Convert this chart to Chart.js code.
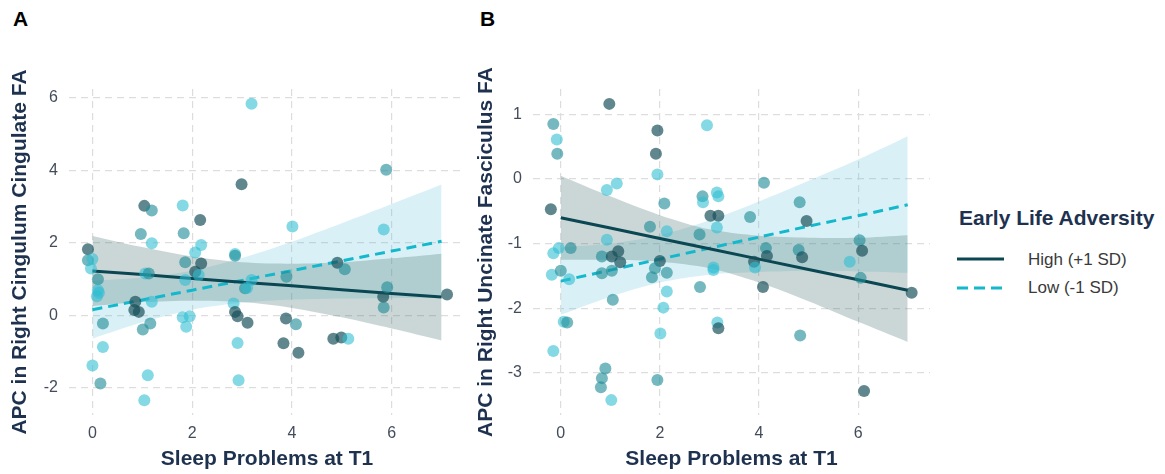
<!DOCTYPE html>
<html>
<head>
<meta charset="utf-8">
<script src="https://cdn.jsdelivr.net/npm/chart.js@4.4.1/dist/chart.umd.min.js"></script>
<style>
  body { margin: 0; background: #fff; width: 1165px; height: 474px; position: relative; overflow: hidden;
         font-family: "Liberation Sans", Arial, sans-serif; }
  .panel { position: absolute; top: 0; width: 475px; height: 474px; }
  .tag { position: absolute; top: 7px; font-weight: bold; font-size: 21px; color: #000; }
  .legend-title { position: absolute; left: 959px; top: 205px; font-size: 21px; font-weight: bold; color: #1e3250; line-height: 26px; }
  .legend-item { position: absolute; left: 1028px; font-size: 17px; color: #3a3a3a; line-height: 20px; }
  .legend-key { position: absolute; left: 956px; }
</style>
</head>
<body>
<div class="tag" style="left:13px;">A</div>
<div class="tag" style="left:480px;">B</div>
<div class="panel" style="left:0;"><canvas id="chartA" width="475" height="474"></canvas></div>
<div class="panel" style="left:465px;"><canvas id="chartB" width="475" height="474"></canvas></div>

<div class="legend-title">Early Life Adversity</div>
<svg class="legend-key" style="top:254px;" width="50" height="10"><line x1="1" y1="5" x2="48" y2="5" stroke="#0b4753" stroke-width="3"/></svg>
<div class="legend-item" style="top:250px;">High (+1 SD)</div>
<svg class="legend-key" style="top:283px;" width="50" height="10"><line x1="1" y1="5" x2="48" y2="5" stroke="#14b8cc" stroke-width="3" stroke-dasharray="11,6"/></svg>
<div class="legend-item" style="top:278px;">Low (-1 SD)</div>

<script>
const xTicks = [0, 2, 4, 6];
const yTicksA = [-2, 0, 2, 4, 6];
const yTicksB = [-3, -2, -1, 0, 1];
const fitX = [0, 1, 2, 3, 4, 5, 6, 7];

// Panel A: Right Cingulum Cingulate FA
const aHighFit = [1.22, 1.12, 1.01, 0.91, 0.81, 0.70, 0.60, 0.50];
const aHighUpper = [2.19, 1.88, 1.62, 1.46, 1.42, 1.46, 1.57, 1.70];
const aHighLower = [0.25, 0.36, 0.40, 0.36, 0.20, -0.06, -0.37, -0.70];
const aLowFit = [0.15, 0.42, 0.69, 0.96, 1.23, 1.50, 1.77, 2.04];
const aLowUpper = [0.95, 1.04, 1.23, 1.58, 2.03, 2.54, 3.07, 3.61];
const aLowLower = [-0.65, -0.20, 0.15, 0.34, 0.43, 0.46, 0.47, 0.47];

const aX = [-0.09, -0.09, 0.00, -0.03, 0.11, 0.11, 0.13, 0.09, 0.21, 0.21, 0.00, 0.16,
  1.04, 1.19, 1.81, 0.97, 1.19, 1.83, 2.16, 1.06, 1.13, 0.86, 0.84, 0.93, 1.19, 1.16, 1.01, 1.11, 1.04,
  1.86, 2.06, 2.18, 2.18, 2.06, 2.13, 1.86, 1.81, 1.95, 1.88,
  2.86, 2.86, 2.83, 2.86, 2.91, 3.11, 2.91, 2.93, 3.06, 3.10, 3.19, 3.19, 2.99,
  3.89, 3.88, 4.08, 3.83, 4.13, 4.01, 4.83, 4.99, 5.13, 4.91, 5.06, 5.83, 5.91, 5.84, 5.84, 5.89, 7.11];
const aY = [1.82, 1.52, 1.55, 1.29, 0.99, 0.69, 0.62, 0.52, -0.23, -0.88, -1.39, -1.89,
  3.02, 2.89, 3.03, 2.24, 1.99, 2.26, 2.63, 1.15, 1.15, 0.37, 0.14, 0.09, 0.37, -0.23, -0.40, -1.66, -2.35,
  1.46, 1.73, 1.94, 1.43, 1.20, 1.11, 0.97, -0.06, -0.03, -0.32,
  1.69, 1.64, 0.32, 0.09, -0.03, -0.21, -0.77, -1.80, 0.74, 0.75, 0.97, 5.84, 3.62,
  1.06, -0.09, -0.25, -0.78, -1.04, 2.45, -0.65, -0.62, -0.65, 1.45, 1.27, 0.51, 0.77, 0.21, 2.37, 4.02, 0.57];
const aTone = ('dmccmcccmccm' + 'dmcmcmdcmdddcmmcc' + 'mccddccccc' + 'cmcdddccmcccd' + 'mdmddcddcdmdmmcmd').split('');

// Panel B: Right Uncinate Fasciculus FA
const bHighFit = [-0.60, -0.76, -0.92, -1.08, -1.24, -1.40, -1.56, -1.72];
const bHighUpper = [0.05, -0.27, -0.56, -0.78, -0.88, -0.91, -0.91, -0.87];
const bHighLower = [-1.25, -1.25, -1.28, -1.38, -1.60, -1.89, -2.21, -2.52];
const bLowFit = [-1.58, -1.41, -1.24, -1.07, -0.90, -0.73, -0.57, -0.40];
const bLowUpper = [-1.06, -1.00, -0.87, -0.64, -0.35, -0.03, 0.30, 0.66];
const bLowLower = [-2.10, -1.82, -1.60, -1.48, -1.44, -1.42, -1.43, -1.45];

const bX = [-0.15, -0.08, -0.07, 0.98, 1.95, 1.92, 1.95, 0.93, 1.13, -0.20,
  2.09, 1.80, 0.93, 2.14, -0.15, -0.04, 0.20, 0.83, 1.03, 1.16,
  1.20, 1.03, 0.83, -0.18, 0.00, 0.17, 1.05, 2.00, 1.90, 1.84,
  2.14, 0.06, 0.13, -0.15, 0.90, 0.83, 0.81, 1.02, 1.95, 2.14,
  2.07, 2.01, 2.95, 4.10, 2.86, 2.87, 3.15, 3.18, 3.02, 3.18,
  3.15, 3.82, 2.80, 3.08, 3.08, 2.81, 3.16, 3.18, 4.14, 4.16,
  3.90, 3.92, 4.08, 4.82, 4.96, 4.80, 4.87, 4.83, 6.03, 6.08,
  5.83, 6.05, 6.12, 7.08];
const bY = [0.85, 0.61, 0.39, 1.16, 0.75, 0.39, 0.07, -0.17, -0.07, -0.47,
  -0.38, -0.74, -0.94, -0.81, -1.15, -1.07, -1.07, -1.20, -1.20, -1.12,
  -1.29, -1.42, -1.46, -1.48, -1.42, -1.55, -1.87, -1.27, -1.38, -1.52,
  -1.45, -2.21, -2.22, -2.66, -2.93, -3.08, -3.22, -3.42, -3.11, -1.74,
  -1.99, -2.39, 0.83, -0.06, -0.27, -0.36, -0.21, -0.27, -0.57, -0.57,
  -0.75, -0.59, -0.86, -1.37, -1.41, -1.67, -2.22, -2.31, -1.07, -1.19,
  -1.28, -1.37, -1.67, -0.36, -0.65, -1.10, -1.21, -2.42, -0.95, -1.11,
  -1.28, -1.53, -3.28, -1.76];
const bTone = ('mcmdddcccd' + 'mmccccmmdd' + 'dmmcmcmdmm' + 'mcmcmmmcmc' +
  'cccmmcccdd' + 'cmmccmcdmd' + 'dcdmdmdmmd' + 'cmdd').split('');

const toneColors = {
  d: 'rgba(22, 78, 88, 0.68)',
  m: 'rgba(32, 140, 152, 0.62)',
  c: 'rgba(45, 190, 210, 0.58)'
};

Chart.defaults.font.family = '"Liberation Sans", Arial, sans-serif';

function pairs(xs, ys) {
  return xs.map((x, i) => ({ x: x, y: ys[i] }));
}

function bandSet(ys, fillTarget, color) {
  return {
    type: 'line', data: pairs(fitX, ys), borderWidth: 0, pointRadius: 0,
    tension: 0.3, fill: fillTarget, backgroundColor: color
  };
}

function makePanel(id, p) {
  const ctx = document.getElementById(id);
  return new Chart(ctx, {
    type: 'scatter',
    data: {
      datasets: [
        {
          data: pairs(p.px, p.py),
          pointRadius: 6, pointBorderWidth: 0,
          pointBackgroundColor: p.tone.map(t => toneColors[t])
        },
        { type: 'line', data: pairs(fitX, p.highFit), borderColor: '#0b4753', borderWidth: 3, pointRadius: 0, fill: false },
        { type: 'line', data: pairs(fitX, p.lowFit), borderColor: '#14b8cc', borderWidth: 3, borderDash: [10, 6], pointRadius: 0, fill: false },
        bandSet(p.highLower, false, 'transparent'),
        bandSet(p.highUpper, 3, 'rgba(70, 110, 110, 0.28)'),
        bandSet(p.lowLower, false, 'transparent'),
        bandSet(p.lowUpper, 5, 'rgba(80, 190, 215, 0.22)')
      ]
    },
    options: {
      responsive: false,
      animation: false,
      layout: { padding: { top: 89, right: 10, left: 0, bottom: 0 } },
      plugins: { legend: { display: false }, tooltip: { enabled: false } },
      scales: {
        x: {
          type: 'linear', min: p.xMin, max: p.xMax,
          afterFit: s => { s.height = 59; },
          afterBuildTicks: s => { s.ticks = xTicks.map(v => ({ value: v })); },
          grid: { color: '#dddddd', lineWidth: 1.2, drawTicks: false },
          border: { display: false, dash: [7, 5] },
          ticks: { padding: 9, color: '#444c5c', font: { size: 16 } },
          title: { display: true, text: 'Sleep Problems at T1', color: '#1e3250',
                   font: { size: 21, weight: 'bold' }, padding: { bottom: 2 } }
        },
        y: {
          type: 'linear', min: p.yMin, max: p.yMax,
          afterFit: s => { s.width = p.axisW; },
          afterBuildTicks: s => { s.ticks = p.yTicks.map(v => ({ value: v })); },
          grid: { color: '#dddddd', lineWidth: 1.2, drawTicks: false },
          border: { display: false, dash: [7, 5] },
          ticks: { padding: p.tickPad, color: '#444c5c', font: { size: 16 } },
          title: { display: true, text: p.yTitle, color: '#1e3250',
                   font: { size: 21, weight: 'bold' }, padding: { top: p.titlePad } }
        }
      }
    }
  });
}

makePanel('chartA', {
  px: aX, py: aY, tone: aTone,
  highFit: aHighFit, highUpper: aHighUpper, highLower: aHighLower,
  lowFit: aLowFit, lowUpper: aLowUpper, lowLower: aLowLower,
  xMin: -0.47, xMax: 7.47, yMin: -2.76, yMax: 6.25, yTicks: yTicksA,
  axisW: 69, tickPad: 11, titlePad: 8,
  yTitle: 'APC in Right Cingulum Cingulate FA'
});

makePanel('chartB', {
  px: bX, py: bY, tone: bTone,
  highFit: bHighFit, highUpper: bHighUpper, highLower: bHighLower,
  lowFit: bLowFit, lowUpper: bLowUpper, lowLower: bLowLower,
  xMin: -0.56, xMax: 7.45, yMin: -3.65, yMax: 1.39, yTicks: yTicksB,
  axisW: 68, tickPad: 11, titlePad: 9,
  yTitle: 'APC in Right Uncinate Fasciculus FA'
});
</script>
</body>
</html>
